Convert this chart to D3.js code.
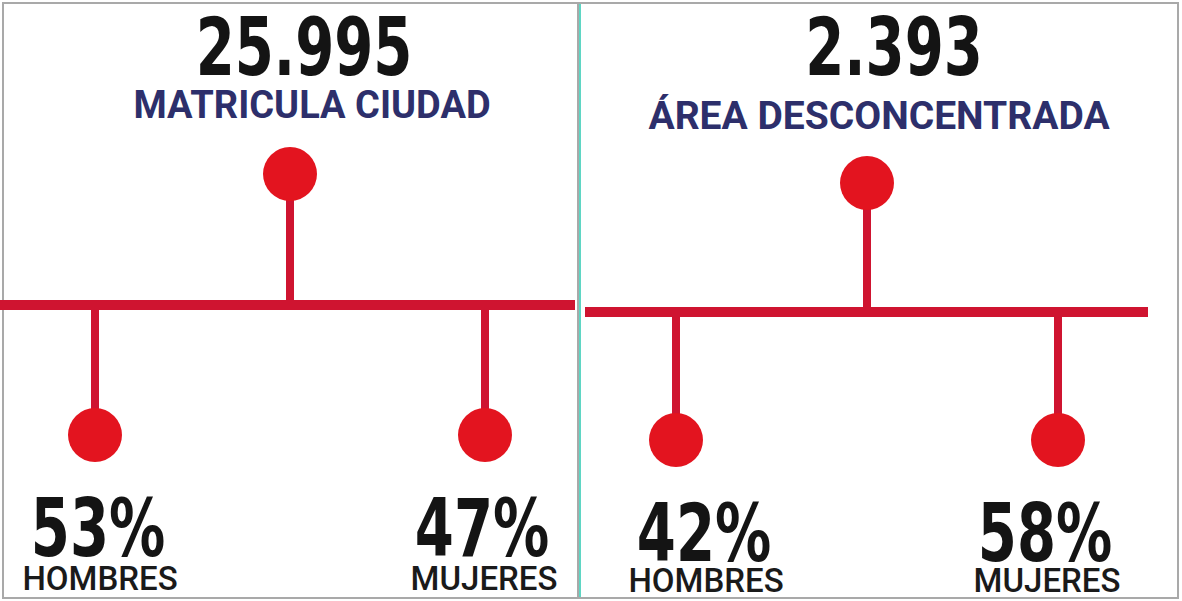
<!DOCTYPE html>
<html lang="es">
<head>
<meta charset="UTF-8">
<title>Matrícula</title>
<script src="https://cdn.jsdelivr.net/npm/d3@7"></script>
<style>
    body { margin: 0; background: #fff; }
    .num { font-family: "DejaVu Sans Condensed", "DejaVu Sans", sans-serif; font-weight: 700; fill: #141414; }
    .title { font-family: Roboto, sans-serif; font-weight: 700; fill: #2d2f6b; }
    .lbl { font-family: Roboto, sans-serif; font-weight: 500; fill: #1a1a1a; }
</style>
</head>
<body>
<div id="chart"></div>
<script>
// data
const titles = ["MATRICULA CIUDAD", "ÁREA DESCONCENTRADA"];
const totals = [25995, 2393];
const hombres = [53, 42];
const mujeres = [47, 58];
const groups = ["HOMBRES", "TOTAL", "MUJERES"];

(() => {
    const width = 1182, height = 601;
    const red = "#cf1430", dot = "#e3141f";

    // layout per panel
    const panels = [
        { x0: 0, w: 578, bar: [0, 575], stems: [95, 485], barY: 305, topY: 174, botY: 435,
          numDx: 14, ttlDx: 22, ttlY: 118, ttlSize: 38, txt: [3, -3], pctY: 556, lblY: 590 },
        { x0: 580, w: 600, bar: [5, 568], stems: [96, 478], barY: 312, topY: 183, botY: 440,
          numDx: 27, ttlDx: 12, ttlY: 129, ttlSize: 39, txt: [28, -13], pctY: 561, lblY: 592 }
    ];

    const fmt = d3.formatLocale({ decimal: ",", thousands: ".", grouping: [3], currency: ["", ""] }).format(",d");

    const svg = d3.select("#chart").append("svg")
        .attr("width", width)
        .attr("height", height);

    panels.forEach((p, i) => {
        const g = svg.append("g").attr("transform", `translate(${p.x0},0)`);
        const x = d3.scalePoint().domain(groups).range(p.stems);

        // frame
        g.append("rect")
            .attr("x", i === 0 ? 3 : 0).attr("y", 3)
            .attr("width", p.w - (i === 0 ? 3 : 2)).attr("height", 595)
            .attr("fill", "none").attr("stroke", "#a9a9a9").attr("stroke-width", 2);
        if (i === 1) {
            g.append("line").attr("x1", 0).attr("x2", 0).attr("y1", 4).attr("y2", 597)
                .attr("stroke", "#5fd6c4").attr("stroke-width", 2);
        }

        const cx = x("TOTAL");
        g.append("g").attr("transform", `translate(${cx + p.numDx},75) scale(0.78,1)`)
            .append("text").attr("class", "num").attr("text-anchor", "middle")
            .attr("font-size", 80).text(fmt(totals[i]));
        g.append("g").attr("transform", `translate(${cx + p.ttlDx},${p.ttlY})`)
            .append("text").attr("class", "title").attr("text-anchor", "middle")
            .attr("font-size", p.ttlSize).text(titles[i]);

        // main bar
        g.append("line")
            .attr("x1", p.bar[0]).attr("x2", p.bar[1])
            .attr("y1", p.barY).attr("y2", p.barY)
            .attr("stroke", red).attr("stroke-width", 10);

        const nodes = [
            { k: "HOMBRES", y: p.botY },
            { k: "TOTAL", y: p.topY },
            { k: "MUJERES", y: p.botY }
        ];
        g.selectAll("line.stem").data(nodes).join("line")
            .attr("class", "stem")
            .attr("x1", d => x(d.k)).attr("x2", d => x(d.k))
            .attr("y1", p.barY).attr("y2", d => d.y)
            .attr("stroke", red).attr("stroke-width", 8);
        g.selectAll("circle").data(nodes).join("circle")
            .attr("cx", d => x(d.k)).attr("cy", d => d.y).attr("r", 27)
            .attr("fill", dot);

        const pcts = [
            { k: "HOMBRES", v: hombres[i], dx: p.txt[0] },
            { k: "MUJERES", v: mujeres[i], dx: p.txt[1] }
        ];
        pcts.forEach(d => {
            g.append("g").attr("transform", `translate(${x(d.k) + d.dx},${p.pctY}) scale(0.78,1)`)
                .append("text").attr("class", "num").attr("text-anchor", "middle")
                .attr("font-size", 80).text(d.v + "%");
            g.append("g").attr("transform", `translate(${x(d.k) + d.dx + 2},${p.lblY})`)
                .append("text").attr("class", "lbl").attr("text-anchor", "middle")
                .attr("font-size", 33).text(d.k);
        });
    });
})();
</script>
</body>
</html>
